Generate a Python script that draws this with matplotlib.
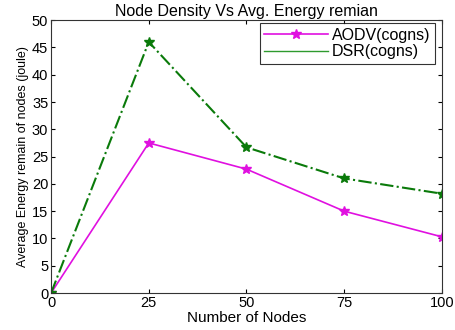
import matplotlib
matplotlib.use('Agg')
import matplotlib.pyplot as plt
from matplotlib.lines import Line2D

# Data
nodes = [0, 25, 50, 75, 100]
aodv_energy = [0, 27.5, 22.7, 15.0, 10.3]
dsr_energy = [0, 46.0, 26.7, 21.0, 18.2]
x_ticks = [0, 25, 50, 75, 100]
y_ticks = [0, 5, 10, 15, 20, 25, 30, 35, 40, 45, 50]

plt.rcParams['font.family'] = ['Liberation Sans', 'DejaVu Sans']


def main():
    fig = plt.figure(figsize=(4.56, 3.3), dpi=100)
    ax = fig.add_axes([0.112, 0.112, 0.857, 0.827])

    ax.plot(nodes, aodv_energy, color='#e010e0', linestyle='-', linewidth=1.2,
            marker='*', markersize=7)
    ax.plot(nodes, dsr_energy, color='#0a7a0a', linestyle='-.', linewidth=1.5,
            marker='*', markersize=7)

    ax.set_xlim(0, 100)
    ax.set_ylim(0, 50)
    ax.set_xticks(x_ticks)
    ax.set_yticks(y_ticks)
    ax.tick_params(direction='in', labelsize=10.5, length=3, top=True, right=True,
                   labeltop=False, labelright=False, pad=2)
    for spine in ax.spines.values():
        spine.set_linewidth(0.8)
        spine.set_color('#333333')

    ax.set_title('Node Density Vs Avg. Energy remian', fontsize=11.5, pad=3)
    ax.set_xlabel('Number of Nodes', fontsize=11, labelpad=1)
    ax.set_ylabel('Average Energy remain of nodes (joule)', fontsize=9,
                  labelpad=2)

    # Legend as drawn in the reference (DSR entry shown as a plain thin line)
    handles = [
        Line2D([], [], color='#e010e0', linestyle='-', linewidth=1.2,
               marker='*', markersize=7),
        Line2D([], [], color='#2e9a2e', linestyle='-', linewidth=1.0),
    ]
    leg = ax.legend(handles, ['AODV(cogns)', 'DSR(cogns)'], loc='upper right',
                    bbox_to_anchor=(0.982, 0.99),
                    fontsize=11.5, fancybox=False, edgecolor='black',
                    handlelength=4.0, borderaxespad=0.0, labelspacing=0.1,
                    borderpad=0.3, handletextpad=0.2)
    leg.get_frame().set_linewidth(0.8)

    fig.savefig('out.png', dpi=100)


if __name__ == '__main__':
    main()
